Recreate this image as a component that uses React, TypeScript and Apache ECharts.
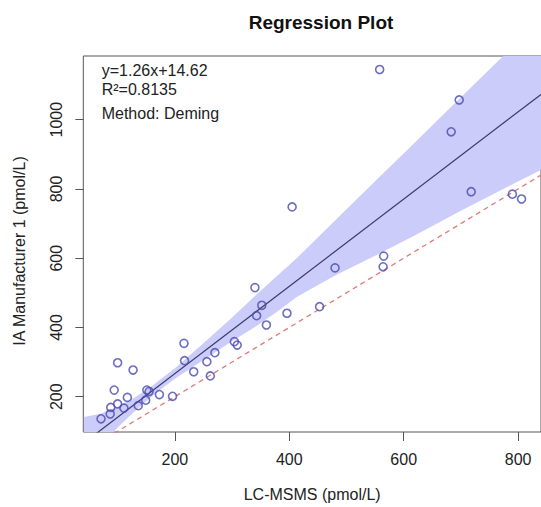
import React, { useEffect, useRef } from "react";
import * as echarts from "echarts";

// Scatter data: LC-MSMS (x) vs IA Manufacturer 1 (y), pmol/L
const pointsX = [71, 87, 88, 100, 111, 94, 100, 127, 117, 136, 149, 151, 155, 173, 196, 216, 217, 233, 256, 262, 270, 304, 309, 340, 352, 343, 360, 396, 453, 405, 480, 558, 565, 564, 683, 697, 718, 790, 806];
const pointsY = [136, 150, 169, 179, 167, 219, 298, 277, 198, 174, 190, 219, 215, 206, 201, 354, 304, 272, 301, 260, 327, 359, 349, 515, 464, 434, 407, 441, 460, 748, 572, 1145, 606, 575, 965, 1057, 792, 785, 771];

// Confidence band edges
const bandX = [41, 70, 100, 130, 160, 200, 250, 300, 340, 380, 413, 480, 550, 620, 700, 774, 840];
const bandUpper = [141, 151, 171, 198, 231, 282, 354, 429, 491, 551, 600, 709, 822, 935, 1065, 1184, 1290];
const bandLower = [-9, 55, 111, 158, 201, 252, 306, 360, 401, 447, 488, 550, 607, 666, 737, 800, 855];

// Fit shown in the chart
const slope = 1.26;
const intercept = 14.62;
const lineX = [40, 840];

const xTicks = [200, 400, 600, 800];
const yTicks = [200, 400, 600, 800, 1000];

const annotations = ["y=1.26x+14.62", "R\u00b2=0.8135", "Method: Deming"];

const FONT = "'Liberation Sans', Arial, Helvetica, sans-serif";

export default function App() {
  const ref = useRef<HTMLDivElement>(null);
  useEffect(() => {
    if (!ref.current) return;
    const chart = echarts.init(ref.current, null, { renderer: "svg" });
    const annoY = [71, 90, 114];
    chart.setOption({
      animation: false,
      backgroundColor: "#ffffff",
      title: {
        text: "Regression Plot",
        left: 316,
        top: 8,
        textAlign: "center",
        textStyle: { fontFamily: FONT, fontSize: 19, fontWeight: "bold", color: "#111" },
      },
      grid: {
        left: 83.3,
        right: -7.6,
        top: 56,
        bottom: 74,
        show: true,
        borderColor: "#555",
        borderWidth: 1,
        backgroundColor: "transparent",
      },
      xAxis: {
        type: "value",
        min: 40,
        max: 840,
        name: "LC-MSMS (pmol/L)",
        nameLocation: "middle",
        nameGap: 54,
        nameTextStyle: { fontFamily: FONT, fontSize: 16, color: "#222" },
        axisLine: { show: false },
        splitLine: { show: false },
        axisTick: { show: true, length: 9, customValues: xTicks, lineStyle: { color: "#555" } },
        axisLabel: {
          customValues: xTicks,
          margin: 19,
          fontFamily: FONT,
          fontSize: 16,
          color: "#222",
          formatter: (v: number) => String(v),
        },
      },
      yAxis: {
        type: "value",
        min: 98,
        max: 1184,
        name: "IA Manufacturer 1 (pmol/L)",
        nameLocation: "middle",
        nameGap: 56,
        nameTextStyle: { fontFamily: FONT, fontSize: 16, color: "#222", padding: [0, 14, 0, 0] },
        axisLine: { show: false },
        splitLine: { show: false },
        axisTick: { show: true, length: 8, customValues: yTicks, lineStyle: { color: "#555" } },
        axisLabel: {
          customValues: yTicks,
          rotate: 90,
          margin: 19,
          fontFamily: FONT,
          fontSize: 16,
          color: "#222",
          formatter: (v: number) => String(v),
        },
      },
      graphic: annotations.map((t, i) => ({
        type: "text",
        left: 101.7,
        top: annoY[i] - 9,
        style: { text: t, fontFamily: FONT, fontSize: 16, fill: "#222" },
        z: 100,
      })),
      series: [
        {
          type: "custom",
          name: "band",
          clip: true,
          silent: true,
          data: bandX.map((x, i) => [x, bandLower[i], bandUpper[i]]),
          encode: { x: 0, y: [1, 2] },
          renderItem: (params: any, api: any) => {
            if (params.dataIndex !== 0) return null;
            const up = bandX.map((x, i) => api.coord([x, bandUpper[i]]));
            const lo = bandX.map((x, i) => api.coord([x, bandLower[i]])).reverse();
            return {
              type: "polygon",
              shape: { points: up.concat(lo) },
              style: { fill: "#ccccfb", stroke: "none" },
            };
          },
          z: 1,
        },
        {
          type: "line",
          name: "identity",
          data: lineX.map((x) => [x, x]),
          symbol: "none",
          lineStyle: { color: "#e07a7a", width: 1.3, type: [5, 4] },
          z: 2,
        },
        {
          type: "line",
          name: "fit",
          data: lineX.map((x) => [x, slope * x + intercept]),
          symbol: "none",
          lineStyle: { color: "#3a3a68", width: 1.2 },
          z: 3,
        },
        {
          type: "scatter",
          name: "points",
          data: pointsX.map((x, i) => [x, pointsY[i]]),
          symbol: "circle",
          symbolSize: 8,
          itemStyle: { color: "rgba(0,0,0,0)", borderColor: "#4a4ab0", borderWidth: 1.6 },
          z: 4,
        },
      ],
    });
    return () => chart.dispose();
  }, []);
  return (
    <div
      ref={ref}
      style={{ position: "absolute", left: 0, top: 0, width: 541, height: 507, overflow: "hidden" }}
    />
  );
}
